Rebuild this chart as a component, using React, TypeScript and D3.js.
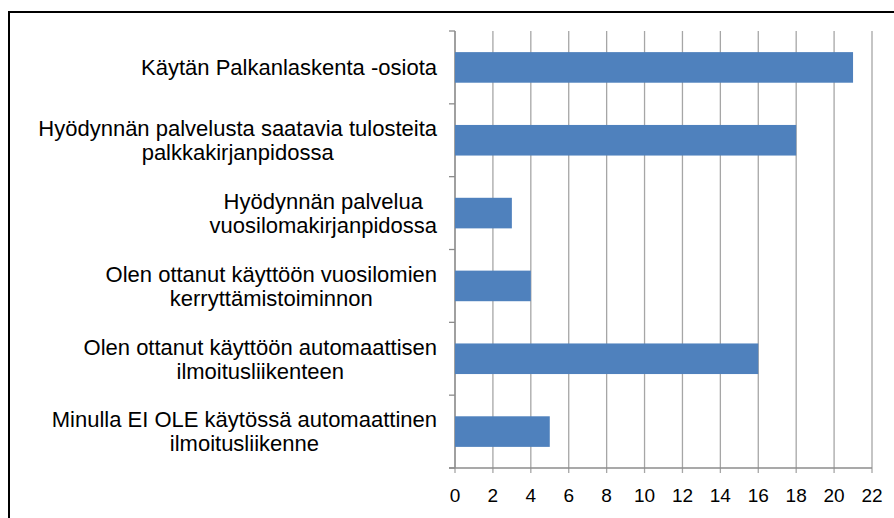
import * as d3 from "d3";
import { useRef, useEffect } from "react";

const categories = [
  ["Käytän Palkanlaskenta -osiota"],
  ["Hyödynnän palvelusta saatavia tulosteita", "palkkakirjanpidossa"],
  ["Hyödynnän palvelua", "vuosilomakirjanpidossa"],
  ["Olen ottanut käyttöön vuosilomien", "kerryttämistoiminnon"],
  ["Olen ottanut käyttöön automaattisen", "ilmoitusliikenteen"],
  ["Minulla EI OLE käytössä automaattinen", "ilmoitusliikenne"],
];
const values = [21, 18, 3, 4, 16, 5];
const xTicks = [0, 2, 4, 6, 8, 10, 12, 14, 16, 18, 20, 22];

export default function App() {
  const labelsRef = useRef(null);
  const width = 894;
  const height = 518;
  const margin = { left: 455, right: 22, top: 31, bottom: 50 };
  const labelRight = 437;

  const keys = categories.map((c, i) => String(i));

  const x = d3
    .scaleLinear()
    .domain([0, 22])
    .range([margin.left, width - margin.right]);

  const y = d3
    .scaleBand()
    .domain(keys)
    .range([margin.top, height - margin.bottom])
    .paddingInner(0.58)
    .paddingOuter(0.29);

  const step = y.step();
  const bandEdges = keys.map((k) => y(k)! - (step - y.bandwidth()) / 2);
  bandEdges.push(height - margin.bottom);

  const font = "'Liberation Sans', Arial, sans-serif";
  const axisY = height - margin.bottom;

  // Multi-line labels: lines centred on each other, block right-aligned
  useEffect(() => {
    const root = d3.select(labelsRef.current);
    root.selectAll("g.cat").each(function () {
      const texts = d3.select(this).selectAll("text");
      let w = 0;
      texts.each(function () {
        w = Math.max(w, (this as SVGTextElement).getComputedTextLength());
      });
      texts.attr("x", labelRight - w / 2);
    });
  }, []);

  return (
    <svg
      width={width}
      height={height}
      viewBox={`0 0 ${width} ${height}`}
      style={{ position: "absolute", left: 0, top: 0, background: "#fff" }}
    >
      <rect x={9} y={12} width={900} height={520} fill="#fff" stroke="#000" strokeWidth={2} />

      {/* gridlines */}
      {xTicks.map((t) => (
        <line
          key={"g" + t}
          x1={x(t)}
          x2={x(t)}
          y1={margin.top}
          y2={axisY + 5}
          stroke="#a6a6a6"
          strokeWidth={1.3}
        />
      ))}

      {/* category axis */}
      <line x1={margin.left} x2={margin.left} y1={margin.top} y2={axisY} stroke="#8c8c8c" strokeWidth={1.3} />
      {bandEdges.map((e, i) => (
        <line key={"yt" + i} x1={margin.left - 6} x2={margin.left} y1={e} y2={e} stroke="#8c8c8c" strokeWidth={1.3} />
      ))}

      {/* value axis */}
      <line x1={margin.left - 6} x2={x(22)} y1={axisY} y2={axisY} stroke="#8c8c8c" strokeWidth={1.3} />

      {/* bars */}
      {values.map((v, i) => (
        <rect
          key={"b" + i}
          x={x(0)}
          y={y(keys[i])}
          width={x(v) - x(0)}
          height={y.bandwidth()}
          fill="#4F81BD"
        />
      ))}

      {/* x tick labels */}
      {xTicks.map((t) => (
        <text
          key={"xl" + t}
          x={x(t)}
          y={axisY + 29}
          fontFamily={font}
          fontSize={19}
          textAnchor="middle"
          dominantBaseline="middle"
          fill="#000"
        >
          {t}
        </text>
      ))}

      {/* category labels */}
      <g ref={labelsRef}>
        {categories.map((lines, i) => {
          const cy = y(keys[i])! + y.bandwidth() / 2;
          const lh = 24;
          return (
            <g key={"cl" + i} className="cat">
              {lines.map((l, j) => (
                <text
                  key={j}
                  x={labelRight - 150}
                  y={cy + (j - (lines.length - 1) / 2) * lh + 2}
                  fontFamily={font}
                  fontSize={22}
                  textAnchor="middle"
                  dominantBaseline="middle"
                  fill="#000"
                >
                  {l}
                </text>
              ))}
            </g>
          );
        })}
      </g>
    </svg>
  );
}
